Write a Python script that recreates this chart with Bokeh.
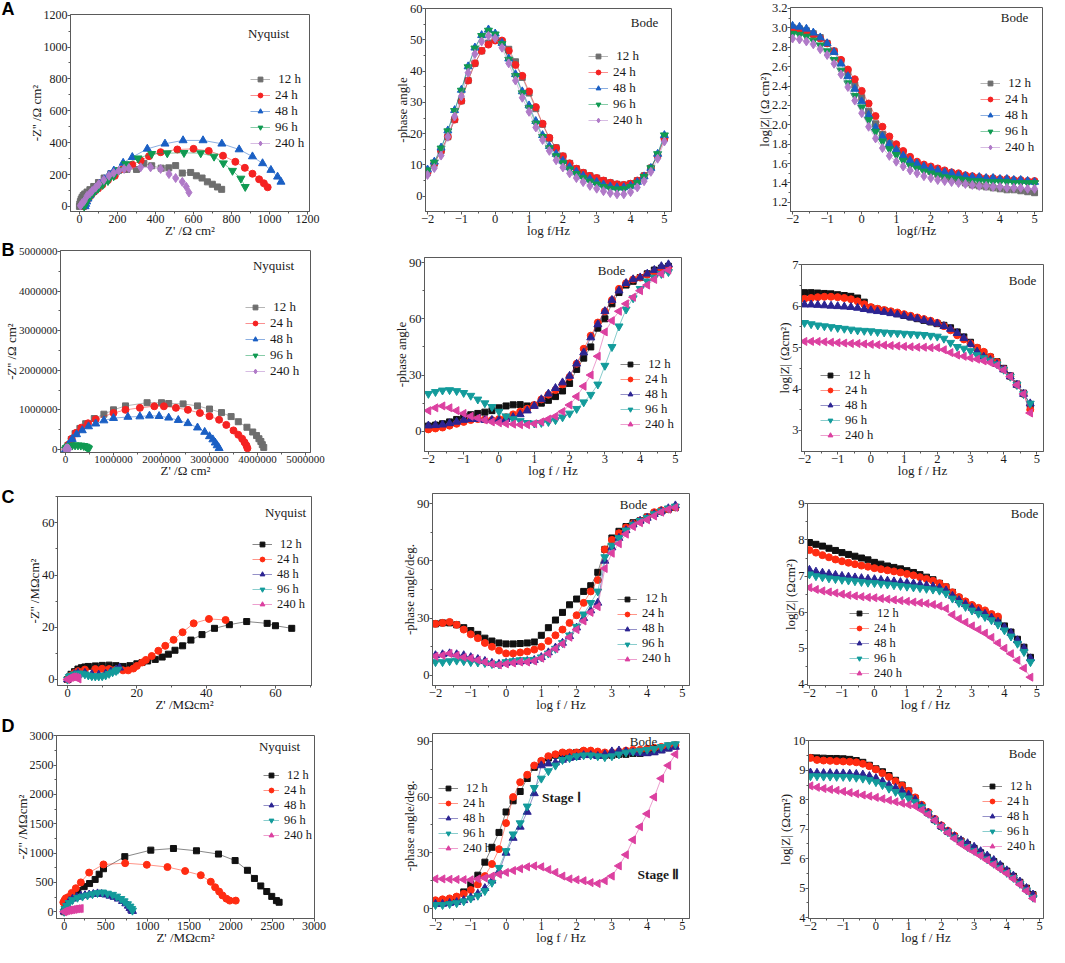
import math
from bokeh.plotting import figure
from bokeh.layouts import column, row
from bokeh.models import Range1d, FixedTicker, Legend, LegendItem, Label, NumeralTickFormatter
from bokeh.embed import file_html
from bokeh.resources import INLINE

HOURS = ["\u00a012 h", "24 h", "48 h", "96 h", "240 h"]

LOGF_A = [-2.0, -1.8, -1.6, -1.4, -1.2, -1.0, -0.8, -0.6, -0.4, -0.2,
          0.0, 0.2, 0.4, 0.6, 0.8, 1.0, 1.2, 1.4, 1.6, 1.8,
          2.0, 2.2, 2.4, 2.6, 2.8, 3.0, 3.2, 3.4, 3.6, 3.8,
          4.0, 4.2, 4.4, 4.6, 4.8, 5.0]
LOGF = [-2.0, -1.8, -1.6, -1.4, -1.2, -1.0, -0.8, -0.6, -0.4, -0.2,
        0.0, 0.2, 0.4, 0.6, 0.8, 1.0, 1.2, 1.4, 1.6, 1.8,
        2.0, 2.2, 2.4, 2.6, 2.8, 3.0, 3.2, 3.4, 3.6, 3.8,
        4.0, 4.2, 4.4, 4.6, 4.8]

# ---------------- Row A : Nyquist (Ohm cm2) ----------------
A_NYQ_12_X = [0, 2, 5, 9, 14, 20, 28, 40, 55, 75, 100, 130, 165, 205, 250, 300, 339, 380, 430, 470, 506, 541, 585, 615, 645, 673, 699, 726, 748]
A_NYQ_12_Y = [0, 15, 30, 45, 57, 68, 78, 90, 105, 125, 150, 178, 205, 225, 232, 232, 270, 255, 240, 242, 256, 209, 213, 192, 178, 154, 139, 122, 107]
A_NYQ_24_X = [25, 28, 33, 40, 50, 62, 78, 98, 120, 150, 186, 230, 278, 322, 366, 427, 515, 600, 680, 755, 820, 870, 910, 945, 970, 990]
A_NYQ_24_Y = [0, 12, 25, 40, 55, 72, 92, 112, 135, 165, 192, 235, 262, 288, 315, 340, 357, 361, 348, 318, 280, 242, 205, 170, 145, 120]
A_NYQ_48_X = [30, 33, 38, 45, 55, 68, 85, 105, 130, 155, 181, 230, 278, 357, 450, 545, 650, 749, 840, 910, 963, 1007, 1042, 1060]
A_NYQ_48_Y = [0, 15, 30, 48, 68, 90, 115, 140, 170, 198, 224, 273, 309, 361, 393, 414, 414, 393, 357, 313, 270, 228, 186, 154]
A_NYQ_96_X = [25, 28, 33, 40, 50, 62, 78, 98, 122, 150, 180, 210, 243, 308, 380, 462, 550, 638, 708, 757, 805, 849, 872]
A_NYQ_96_Y = [0, 12, 25, 40, 55, 72, 92, 112, 135, 160, 190, 228, 266, 302, 330, 334, 336, 334, 313, 271, 224, 175, 123]
A_NYQ_240_X = [5, 14, 25, 40, 55, 67, 85, 102, 128, 155, 180, 207, 235, 260, 322, 374, 427, 471, 506, 541, 562, 576]
A_NYQ_240_Y = [5, 20, 34, 66, 82, 97, 118, 140, 166, 192, 210, 224, 235, 241, 245, 245, 235, 203, 178, 154, 123, 87]

# ---------------- Row A : phase angle ----------------
A_PH_12 = [7.5, 10.5, 14.5, 19, 24.5, 30.5, 37, 42.5, 46.5, 49, 50, 49.5, 47, 43, 38, 33, 28, 23, 18.5, 15.5,
           12.8, 10.5, 8.8, 7.5, 6.5, 5.8, 5.0, 4.3, 3.8, 3.6, 4.0, 5.0, 6.5, 9.0, 13.0, 18.5]
A_PH_24 = [7.5, 10.5, 14.5, 19, 24.5, 30.5, 37, 42.5, 46.5, 48.5, 49.8, 49.8, 46.5, 42, 38.5, 33.5, 28.5, 23.2, 18.7, 15.4,
           12.8, 10.5, 8.8, 7.5, 6.5, 5.8, 5.0, 4.3, 3.8, 3.6, 4.0, 5.0, 6.5, 9.0, 13.0, 18.5]
A_PH_48 = [8.5, 11, 15.5, 21, 27.5, 34, 41.5, 47.5, 51.5, 53.3, 52, 49, 44, 39, 33.5, 29, 24, 19.5, 16, 13.5,
           11.3, 9.3, 7.8, 6.5, 5.5, 4.5, 3.7, 3.1, 2.8, 2.8, 3.3, 4.5, 6.3, 9.0, 13.5, 19.5]
A_PH_96 = [8.3, 10.8, 15.3, 20.8, 27.3, 33.8, 41.3, 47.3, 51.3, 53, 51.8, 48.7, 43.7, 38.5, 33, 28.3, 23.3, 19, 15.4, 12.8,
           10.6, 8.6, 7.1, 5.8, 4.7, 3.8, 3.0, 2.4, 2.2, 2.3, 3.0, 4.3, 6.2, 9.0, 13.5, 19.5]
A_PH_240 = [6.8, 9, 13, 19, 25.5, 32, 39.5, 45.5, 49.5, 51.3, 50.5, 47.5, 42.5, 37, 31.5, 27, 22, 18, 14.5, 11.5,
            9.2, 7.3, 5.8, 4.5, 3.3, 2.4, 1.6, 1.0, 0.6, 0.6, 1.3, 2.8, 4.8, 7.8, 12, 17.5]

# ---------------- Row A : log|Z| ----------------
A_Z_12 = [3.0, 2.99, 2.97, 2.94, 2.9, 2.84, 2.76, 2.66, 2.54, 2.41, 2.28, 2.14, 2.01, 1.9, 1.81, 1.74, 1.67, 1.62, 1.58, 1.55,
          1.52, 1.49, 1.46, 1.44, 1.42, 1.4, 1.38, 1.37, 1.36, 1.35, 1.34, 1.33, 1.33, 1.32, 1.31, 1.3]
A_Z_24 = [2.99, 2.98, 2.96, 2.93, 2.89, 2.84, 2.76, 2.67, 2.57, 2.47, 2.35, 2.22, 2.09, 1.98, 1.88, 1.8, 1.73, 1.67, 1.62, 1.59,
          1.57, 1.55, 1.53, 1.51, 1.5, 1.48, 1.47, 1.46, 1.45, 1.45, 1.44, 1.44, 1.43, 1.43, 1.42, 1.42]
A_Z_48 = [3.02, 3.01, 2.99, 2.95, 2.9, 2.84, 2.75, 2.63, 2.5, 2.37, 2.24, 2.1, 1.97, 1.88, 1.8, 1.74, 1.68, 1.63, 1.6, 1.57,
          1.55, 1.53, 1.51, 1.5, 1.48, 1.47, 1.46, 1.46, 1.45, 1.45, 1.44, 1.44, 1.43, 1.43, 1.42, 1.41]
A_Z_96 = [2.94, 2.93, 2.91, 2.87, 2.82, 2.76, 2.67, 2.56, 2.43, 2.3, 2.18, 2.05, 1.93, 1.83, 1.75, 1.69, 1.63, 1.58, 1.55, 1.52,
          1.5, 1.48, 1.46, 1.45, 1.44, 1.43, 1.42, 1.42, 1.41, 1.41, 1.41, 1.41, 1.4, 1.4, 1.4, 1.4]
A_Z_240 = [2.89, 2.88, 2.86, 2.83, 2.78, 2.72, 2.63, 2.52, 2.39, 2.25, 2.12, 1.98, 1.86, 1.76, 1.68, 1.62, 1.57, 1.53, 1.5, 1.47,
           1.45, 1.43, 1.42, 1.41, 1.4, 1.39, 1.38, 1.37, 1.37, 1.36, 1.36, 1.35, 1.35, 1.35, 1.34, 1.34]

# ---------------- Row B : Nyquist (millions of Ohm cm2) ----------------
B_NYQ_12_X = [0, 0.05, 0.12, 0.2, 0.3, 0.42, 0.6, 0.8, 1.0, 1.25, 1.7, 2.0, 2.15, 2.45, 2.75, 3.0, 3.25, 3.45, 3.6, 3.78, 3.9, 3.98, 4.03, 4.07, 4.1, 4.13]
B_NYQ_12_Y = [0, 0.1, 0.25, 0.4, 0.53, 0.65, 0.78, 0.89, 1.0, 1.1, 1.18, 1.18, 1.16, 1.15, 1.1, 1.02, 0.93, 0.83, 0.7, 0.56, 0.44, 0.35, 0.27, 0.2, 0.12, 0.05]
B_NYQ_24_X = [0, 0.06, 0.13, 0.22, 0.33, 0.47, 0.63, 1.0, 1.25, 1.55, 1.85, 2.05, 2.3, 2.55, 2.8, 3.0, 3.2, 3.35, 3.5, 3.6, 3.68, 3.73, 3.77, 3.79]
B_NYQ_24_Y = [0, 0.12, 0.27, 0.42, 0.55, 0.66, 0.76, 0.92, 1.0, 1.05, 1.09, 1.09, 1.05, 1.0, 0.92, 0.84, 0.75, 0.62, 0.48, 0.37, 0.27, 0.18, 0.1, 0.03]
B_NYQ_48_X = [0, 0.06, 0.14, 0.23, 0.35, 0.48, 0.63, 0.8, 1.0, 1.3, 1.55, 1.75, 1.95, 2.15, 2.35, 2.55, 2.75, 2.9, 3.0, 3.07, 3.12, 3.16, 3.2]
B_NYQ_48_Y = [0, 0.12, 0.26, 0.38, 0.48, 0.58, 0.65, 0.73, 0.79, 0.82, 0.83, 0.85, 0.84, 0.8, 0.74, 0.66, 0.55, 0.44, 0.33, 0.25, 0.17, 0.1, 0.03]
B_NYQ_96_X = [0, 0.02, 0.05, 0.09, 0.14, 0.2, 0.26, 0.32, 0.38, 0.42, 0.45, 0.47, 0.48]
B_NYQ_96_Y = [0, 0.04, 0.07, 0.09, 0.1, 0.105, 0.105, 0.1, 0.09, 0.075, 0.055, 0.035, 0.015]
B_NYQ_240_X = [0, 0.01, 0.02, 0.035, 0.05, 0.06, 0.065]
B_NYQ_240_Y = [0, 0.015, 0.025, 0.03, 0.025, 0.015, 0.005]

B_PH_12 = [2.8, 3.3, 4.0, 5.0, 6.3, 7.8, 8.8, 9.5, 10.2, 11.0, 12.5, 13.5, 14.1, 14.2, 13.5, 13.8, 15.0, 16.5, 18.5, 21.5,
           25.5, 33, 39, 45, 55, 60, 68, 74, 78, 80, 82, 84, 86, 87, 88]
B_PH_24 = [1.0, 1.5, 2.0, 3.0, 4.0, 5.0, 6.0, 6.5, 6.3, 6.0, 6.5, 7.5, 9.0, 10.5, 12.0, 14.0, 17.0, 19.5, 22.0, 25.0,
           29.0, 36, 44, 51, 58, 64, 70, 76, 79, 81, 82, 83.5, 85, 86.5, 87.5]
B_PH_48 = [3.0, 3.2, 3.5, 4.2, 5.0, 6.0, 6.5, 6.5, 6.0, 6.0, 6.0, 6.5, 7.5, 9.0, 11.0, 13.5, 17.0, 20.0, 23.0, 26.0,
           29.5, 36, 42, 50, 57, 64, 70, 75, 79, 81, 82, 84, 86, 88, 89]
B_PH_96 = [20, 21, 21.8, 22, 21.5, 20.5, 19, 17, 15, 13, 10.5, 8, 6.5, 5.5, 4.5, 4.2, 4.5, 5, 6, 7.5,
           9.5, 12, 15.5, 19.5, 25, 35, 45, 56, 65, 71, 76, 80, 82, 84, 85]
B_PH_240 = [11, 12.5, 13.5, 12.5, 11, 9.5, 8, 7, 6, 5, 4.5, 4, 3.8, 3.5, 3.5, 4, 5, 6.5, 8, 10.5,
            14, 18.5, 24, 30, 40, 53, 59, 64, 68, 71.5, 75, 78, 81, 84, 86]

B_Z_12 = [6.33, 6.33, 6.32, 6.31, 6.30, 6.28, 6.26, 6.24, 6.20, 6.10, 5.97, 5.93, 5.90, 5.86, 5.82, 5.78, 5.74, 5.70, 5.66, 5.62,
          5.58, 5.54, 5.48, 5.38, 5.26, 5.13, 4.99, 4.88, 4.77, 4.66, 4.50, 4.32, 4.12, 3.90, 3.62]
B_Z_24 = [6.18, 6.20, 6.22, 6.23, 6.23, 6.22, 6.20, 6.17, 6.12, 6.05, 5.98, 5.94, 5.91, 5.88, 5.85, 5.81, 5.77, 5.73, 5.69, 5.65,
          5.60, 5.52, 5.42, 5.30, 5.20, 5.10, 5.00, 4.90, 4.78, 4.65, 4.48, 4.30, 4.10, 3.88, 3.50]
B_Z_48 = [6.04, 6.04, 6.03, 6.02, 6.01, 6.00, 5.99, 5.98, 5.96, 5.93, 5.90, 5.88, 5.86, 5.83, 5.80, 5.77, 5.73, 5.70, 5.66, 5.62,
          5.58, 5.52, 5.45, 5.35, 5.23, 5.08, 4.90, 4.78, 4.70, 4.60, 4.47, 4.30, 4.10, 3.88, 3.65]
B_Z_96 = [5.60, 5.57, 5.54, 5.52, 5.50, 5.48, 5.46, 5.44, 5.42, 5.41, 5.40, 5.38, 5.37, 5.36, 5.35, 5.34, 5.33, 5.32, 5.31, 5.29,
          5.27, 5.22, 5.12, 5.02, 4.98, 4.92, 4.82, 4.75, 4.69, 4.60, 4.47, 4.30, 4.10, 3.88, 3.65]
B_Z_240 = [5.15, 5.15, 5.15, 5.14, 5.13, 5.12, 5.11, 5.10, 5.10, 5.09, 5.08, 5.07, 5.06, 5.05, 5.04, 5.03, 5.02, 5.01, 5.01, 5.00,
           5.00, 4.95, 4.88, 4.82, 4.79, 4.75, 4.72, 4.68, 4.64, 4.57, 4.46, 4.30, 4.10, 3.88, 3.42]

# ---------------- Row C ----------------
C_NYQ_12_X = [0, 0.5, 1, 2, 3, 4, 5, 6, 8, 10, 12, 14, 16, 18, 20, 21.5, 23.1, 25.3, 27.3, 29.1, 31, 33.2, 35.6, 38.8, 42.4, 46.7, 51.7, 57.6, 60, 64.7]
C_NYQ_12_Y = [0, 1, 2, 3, 4, 4.5, 4.8, 5, 5.2, 5.4, 5.5, 5.3, 5, 5.3, 6, 6.5, 7.1, 7.7, 8.6, 9.7, 11.2, 12.9, 15.1, 17.2, 19.6, 21, 22.2, 21.5, 20.6, 19.6]
C_NYQ_24_X = [0, 1, 2, 3, 5, 8, 10, 12, 14, 16, 17.5, 19, 20, 21.5, 22.6, 24.3, 26.2, 28.2, 30.6, 33.2, 36.4, 40.8, 45.6]
C_NYQ_24_Y = [0, 1.5, 2.5, 3.2, 3.8, 4, 4.1, 4, 3.8, 3.5, 3.5, 4.2, 5.2, 6.5, 7.5, 9, 11, 12.9, 15.2, 18.1, 21.5, 23.2, 22.8]
C_NYQ_48_X = [0, 1, 2, 3, 5, 7, 9, 11, 12.5, 14, 15]
C_NYQ_48_Y = [0, 1, 2, 2.5, 2.5, 2, 1.8, 2.2, 3, 3.8, 4.5]
C_NYQ_96_X = [0, 0.5, 1, 2, 3, 4, 5, 6, 7, 8, 9, 10, 11, 12, 13, 14, 14.5]
C_NYQ_96_Y = [0, 1, 1.5, 2, 2.3, 2.3, 2, 1.6, 1.3, 1.2, 1.2, 1.3, 1.6, 2.2, 2.8, 3.3, 3.8]
C_NYQ_240_X = [0, 0.5, 1, 1.5, 2, 2.5, 3, 3.2]
C_NYQ_240_Y = [0, 0.5, 0.8, 1, 1, 0.8, 0.6, 0.2]

C_PH_12 = [27, 27.5, 27.5, 26.5, 25, 23.5, 21.5, 19.5, 18, 17, 16.5, 16.5, 16.7, 17, 17.5, 21, 25, 29, 33, 37,
           40, 44, 47, 54, 66, 72, 75.5, 78, 80, 81, 83, 85, 86, 87, 88]
C_PH_24 = [27, 27.5, 28, 26.5, 24, 21.5, 19.5, 17, 15, 13, 11.5, 11.5, 12, 12.5, 13.5, 15, 18, 21, 24, 27.5,
           31.5, 38, 44, 50, 66, 71, 74.5, 77.5, 79.5, 81, 83, 85.5, 86.5, 87, 88]
C_PH_48 = [10.5, 11, 11.5, 11, 10.5, 9.5, 8.5, 7.5, 6.5, 6, 6.5, 7, 7.2, 7.5, 8, 9.5, 12, 14.5, 17, 20.5,
           25, 30, 34, 38, 60, 67, 72, 76, 79, 81, 82.5, 84.5, 86, 87.5, 89]
C_PH_96 = [7, 7, 7.5, 7.8, 7.5, 7, 6.8, 6.5, 6, 5.8, 7, 7.5, 8, 8, 8.2, 9.5, 11.5, 14, 17, 21,
           25.5, 32, 38, 44, 62, 68, 72, 76, 79, 81, 82.5, 84.5, 86, 87.5, 88.5]
C_PH_240 = [10, 10.5, 11.5, 10.5, 9.5, 9, 8, 7, 6, 5.5, 6, 6.5, 7, 7, 7.5, 9, 11.5, 14, 16.5, 20,
            24, 28.5, 33, 36, 56, 64, 69, 74, 78, 80, 81.5, 83.5, 85.5, 87, 88]

C_Z_12 = [7.93, 7.88, 7.83, 7.77, 7.71, 7.65, 7.60, 7.55, 7.50, 7.45, 7.38, 7.33, 7.28, 7.24, 7.20, 7.15, 7.10, 7.04, 6.97, 6.90,
          6.80, 6.70, 6.55, 6.40, 6.27, 6.17, 6.08, 6.00, 5.92, 5.80, 5.62, 5.45, 5.25, 5.03, 4.75]
C_Z_24 = [7.72, 7.65, 7.58, 7.52, 7.46, 7.41, 7.37, 7.33, 7.29, 7.26, 7.22, 7.19, 7.16, 7.13, 7.10, 7.06, 7.02, 6.97, 6.92, 6.87,
          6.80, 6.70, 6.55, 6.42, 6.30, 6.20, 6.12, 6.05, 5.95, 5.88]
C_Z_48 = [7.17, 7.12, 7.09, 7.06, 7.03, 7.00, 6.98, 6.96, 6.94, 6.92, 6.91, 6.89, 6.87, 6.85, 6.83, 6.81, 6.79, 6.77, 6.74, 6.71,
          6.67, 6.60, 6.45, 6.33, 6.22, 6.12, 6.03, 5.95, 5.85, 5.73, 5.58, 5.42, 5.22, 5.00, 4.72]
C_Z_96 = [7.05, 7.00, 6.97, 6.94, 6.92, 6.90, 6.88, 6.86, 6.84, 6.82, 6.81, 6.79, 6.77, 6.75, 6.73, 6.71, 6.69, 6.67, 6.65, 6.63,
          6.60, 6.52, 6.38, 6.26, 6.15, 6.05, 5.96, 5.87, 5.78, 5.66, 5.50, 5.33, 5.13, 4.90, 4.62]
C_Z_240 = [6.68, 6.63, 6.59, 6.56, 6.53, 6.50, 6.47, 6.45, 6.43, 6.41, 6.40, 6.38, 6.36, 6.34, 6.32, 6.30, 6.28, 6.26, 6.24, 6.21,
           6.17, 6.10, 5.93, 5.82, 5.72, 5.62, 5.52, 5.42, 5.30, 5.15, 5.00, 4.85, 4.67, 4.45, 4.20]

# ---------------- Row D ----------------
D_NYQ_12_X = [0, 12, 40, 100, 165, 240, 305, 372, 420, 472, 728, 1040, 1312, 1588, 1852, 2052, 2200, 2284, 2360, 2432, 2492, 2548, 2580]
D_NYQ_12_Y = [0, 122, 200, 289, 360, 428, 480, 550, 639, 733, 939, 1050, 1078, 1039, 983, 872, 706, 567, 439, 344, 261, 189, 161]
D_NYQ_24_X = [0, -10, 5, 20, 52, 90, 140, 200, 300, 472, 732, 992, 1240, 1452, 1640, 1760, 1812, 1860, 1900, 1948, 1988, 2060]
D_NYQ_24_Y = [0, 160, 200, 230, 250, 320, 400, 500, 667, 806, 828, 800, 761, 694, 622, 511, 417, 344, 278, 222, 189, 189]
D_NYQ_48_X = [0, 10, 30, 60, 100, 150, 200, 250, 300, 350, 400, 450, 500, 550, 600, 650, 700, 740, 770, 790, 810, 820]
D_NYQ_48_Y = [0, 60, 120, 180, 220, 250, 270, 280, 290, 300, 310, 300, 290, 270, 250, 220, 180, 140, 100, 60, 30, 10]
D_NYQ_96_X = [0, 10, 30, 60, 100, 160, 220, 280, 340, 400, 460, 520, 580, 630, 680, 720, 760, 790, 810, 820]
D_NYQ_96_Y = [0, 50, 100, 150, 200, 240, 260, 280, 300, 320, 330, 310, 290, 260, 220, 180, 130, 90, 50, 20]
D_NYQ_240_X = [0, 20, 40, 60, 80, 100, 120, 140, 160, 180, 200]
D_NYQ_240_Y = [0, 10, 20, 25, 30, 35, 40, 45, 50, 52, 55]

D_PH_12 = [3.5, 3.8, 4.5, 6, 9, 13, 18, 25, 33, 41, 52, 58, 63, 70, 76, 79, 81, 82.5, 83.5, 83.5,
           84, 84.5, 84, 83, 82.5, 82.5, 83, 83, 83.5, 83.5, 84, 84.5, 85.5, 86.5, 87.5]
D_PH_24 = [4.5, 5, 5.5, 6.5, 8, 10, 13, 17.5, 24, 32, 46, 60, 68, 72, 77, 79.5, 82, 83, 84, 84,
           84, 85, 85, 84.5, 84, 84, 84.5, 85, 85.5, 85.5, 86, 86.5, 87, 87.5, 88]
D_PH_48 = [2.5, 2.5, 3, 3.5, 4.5, 6, 8, 11, 15, 20, 30, 38, 44, 52, 62, 77, 78, 78.5, 80, 81,
           81.5, 82.5, 82.5, 82, 83, 84.5, 85, 84.5, 84, 83.5, 83.5, 84, 85, 86, 87]
D_PH_96 = [2, 2, 2.5, 3, 4, 5.5, 7, 9.5, 14, 22, 31, 40, 46, 55, 65, 70, 74, 77, 80, 81,
           82, 82.5, 82.5, 82, 81.5, 82, 83, 84, 84.5, 85, 85.5, 86, 87, 88, 88.5]
D_PH_240 = [16, 16, 15.8, 15.7, 15.6, 15.5, 16, 16.5, 17.5, 18.5, 19.5, 20.5, 21.5, 22.5, 23, 22.5, 21, 19.5, 17.5, 16,
            15.5, 15, 14, 13.5, 15, 17.5, 23, 29, 37, 44, 51, 60, 70, 77, 83]

D_Z_12 = [9.43, 9.42, 9.41, 9.40, 9.40, 9.39, 9.37, 9.33, 9.27, 9.17, 9.05, 8.95, 8.82, 8.66, 8.50, 8.30, 8.05, 7.80, 7.55, 7.32,
          7.10, 6.92, 6.75, 6.60, 6.48, 6.35, 6.20, 6.05, 5.90, 5.75, 5.58, 5.40, 5.20, 5.00, 4.78]
D_Z_24 = [9.42, 9.35, 9.33, 9.32, 9.31, 9.30, 9.29, 9.27, 9.22, 9.14, 9.03, 8.90, 8.77, 8.63, 8.48, 8.30, 8.08, 7.83, 7.58, 7.35,
          7.13, 6.95, 6.78, 6.60, 6.45, 6.30, 6.15, 6.00, 5.85, 5.70, 5.55, 5.37, 5.18, 4.98, 4.76]
D_Z_48 = [8.92, 8.91, 8.90, 8.90, 8.89, 8.89, 8.88, 8.87, 8.85, 8.80, 8.73, 8.62, 8.50, 8.40, 8.30, 8.17, 8.00, 7.78, 7.55, 7.32,
          7.10, 6.92, 6.76, 6.62, 6.52, 6.40, 6.25, 6.10, 5.95, 5.78, 5.60, 5.42, 5.22, 5.00, 4.78]
D_Z_96 = [8.80, 8.80, 8.79, 8.79, 8.78, 8.78, 8.77, 8.75, 8.72, 8.67, 8.60, 8.50, 8.38, 8.27, 8.15, 8.05, 7.92, 7.75, 7.53, 7.30,
          7.08, 6.90, 6.72, 6.55, 6.40, 6.27, 6.13, 5.98, 5.83, 5.68, 5.52, 5.35, 5.15, 4.93, 4.68]
D_Z_240 = [8.47, 8.42, 8.38, 8.35, 8.32, 8.28, 8.24, 8.20, 8.16, 8.12, 8.08, 8.03, 7.98, 7.93, 7.88, 7.83, 7.78, 7.65, 7.50, 7.30,
           7.08, 6.88, 6.68, 6.50, 6.36, 6.23, 6.10, 5.95, 5.80, 5.65, 5.50, 5.32, 5.12, 4.90, 4.65]

# ---------------- styling ----------------
PAL_A = ["#6e6e6e", "#f52222", "#1a5fc4", "#109a52", "#b07ac8"]
PAL_B = ["#111111", "#ff2c12", "#2c2492", "#139b9b", "#dc40a0"]
SERIF = "Liberation Serif"
AX = "#5a5a5a"
TXT = "#1a1a1a"
TAG_PX = 18.0
BOTTOM_EXTRA = 9


def seq(a, b, s):
    out, v = [], a
    while v <= b + 1e-9:
        out.append(round(v, 6))
        v += s
    return out


def panel(cell, frame, xr, yr, xt, yt, xlab, ylab, series, pal, left_tri,
          leg_left, leg_first, leg_font, note, note_xy, tag=None, tag_xy=None,
          tick_px="12.5px", xfmt=None, yfmt=None, glyph_w=20, extra=()):
    cl, ct, cr, cb = cell
    fl, ft, fr, fb = frame
    p = figure(width=cr - cl, height=cb - ct,
               x_range=Range1d(xr[0], xr[1]), y_range=Range1d(yr[0], yr[1]),
               output_backend="svg", toolbar_location=None,
               min_border_left=fl - cl, min_border_right=cr - fr,
               min_border_top=ft - ct, min_border_bottom=max(cb - fb - BOTTOM_EXTRA, 5))
    p.xgrid.visible = False
    p.ygrid.visible = False
    p.outline_line_color = AX
    p.outline_line_width = 1
    p.outline_line_alpha = 1
    p.background_fill_color = "white"
    p.border_fill_color = "white"
    p.xaxis.ticker = FixedTicker(ticks=xt[0], minor_ticks=xt[1])
    p.yaxis.ticker = FixedTicker(ticks=yt[0], minor_ticks=yt[1])
    if xfmt:
        p.xaxis.formatter = NumeralTickFormatter(format=xfmt)
    if yfmt:
        p.yaxis.formatter = NumeralTickFormatter(format=yfmt)
    for ax in (p.xaxis[0], p.yaxis[0]):
        ax.axis_line_color = AX
        ax.major_tick_line_color = AX
        ax.minor_tick_line_color = AX
        ax.major_tick_in = 0
        ax.major_tick_out = 3
        ax.minor_tick_in = 0
        ax.minor_tick_out = 2
        ax.major_label_text_font = SERIF
        ax.major_label_text_font_size = tick_px
        ax.major_label_text_color = TXT
        ax.major_label_standoff = 0
        ax.axis_label_text_font = SERIF
        ax.axis_label_text_font_size = "13px"
        ax.axis_label_text_font_style = "normal"
        ax.axis_label_text_color = TXT
        ax.axis_label_standoff = -3
    p.xaxis.axis_label = xlab
    p.yaxis.axis_label = ylab

    def dp(px, py):
        x = xr[0] + (px - fl) / (fr - fl) * (xr[1] - xr[0])
        y = yr[1] - (py - ft) / (fb - ft) * (yr[1] - yr[0])
        return x, y

    markers = ["square", "circle", "triangle", "inverted_triangle", "triangle" if left_tri else "diamond"]
    sizes = [6, 7, 8, 8, 8 if left_tri else 9]
    items = []
    for i, (xs, ys) in enumerate(series):
        c = pal[i]
        lr = p.line(xs, ys, line_color=c, line_alpha=0.5, line_width=1)
        kw = dict(marker=markers[i], size=sizes[i], fill_color=c, line_color=c)
        if i == 4 and left_tri:
            kw["angle"] = math.pi / 2
        sr = p.scatter(xs, ys, **kw)
        items.append(LegendItem(label=HOURS[i], renderers=[lr, sr]))
    pitch = leg_font * 16.0 / 13.0
    total = 5 * pitch
    top = leg_first - pitch / 2
    leg = Legend(items=items, location=(leg_left - fl, fb - (top + total)),
                 padding=0, margin=0, spacing=0, glyph_height=12, label_height=12,
                 glyph_width=glyph_w, label_standoff=5,
                 label_text_font=SERIF, label_text_font_size="%gpx" % leg_font, label_text_color=TXT,
                 border_line_alpha=0, background_fill_alpha=0)
    p.add_layout(leg)

    nx, ny = dp(*note_xy)
    p.add_layout(Label(x=nx, y=ny, text=note, text_font=SERIF, text_font_size="13px",
                       text_color=TXT, text_align="center", text_baseline="middle"))
    for (txt, ex, ey) in extra:
        sx, sy = dp(ex, ey)
        p.add_layout(Label(x=sx, y=sy, text=txt, text_font=SERIF, text_font_size="13.5px",
                           text_font_style="bold", text_color=TXT,
                           text_align="center", text_baseline="middle"))
    if tag:
        # panel letter as a left-aligned title that sits in the top border
        tx, base = tag_xy
        h = TAG_PX * 1.117
        sy = base + TAG_PX * 0.212
        s = 2.0 * (ft - sy)
        s = max(min(s, (ft - ct) - 2 - h), -(2 + h) + 1)
        p.title.text = tag
        p.title.align = "left"
        p.title.vertical_align = "bottom"
        p.title.offset = tx - fl
        p.title.standoff = s
        p.title.text_font = "Liberation Sans"
        p.title.text_font_size = "%gpx" % TAG_PX
        p.title.text_font_style = "bold"
        p.title.text_color = "#000000"
    return p


BODE_X = (seq(-2, 5, 1), seq(-1.5, 4.5, 1))

# Row A
pA1 = panel((8, 8, 355, 248), (78, 22, 317, 217), (-47, 1210), (-32, 1204),
            (seq(0, 1200, 200), seq(100, 1100, 200)), (seq(0, 1200, 200), seq(100, 1100, 200)),
            "Z' /\u03a9 cm\u00b2", "-Z'' /\u03a9 cm\u00b2",
            [(A_NYQ_12_X, A_NYQ_12_Y), (A_NYQ_24_X, A_NYQ_24_Y), (A_NYQ_48_X, A_NYQ_48_Y),
             (A_NYQ_96_X, A_NYQ_96_Y), (A_NYQ_240_X, A_NYQ_240_Y)],
            PAL_A, False, 258, 85, 13, "Nyquist", (276, 41), "A", (9, 22), tick_px="12px")
pA2 = panel((355, 8, 710, 248), (433, 16, 679, 214), (-2.06, 5.21), (-4.9, 60.05),
            BODE_X, (seq(0, 60, 10), seq(5, 55, 10)),
            "log f/Hz", "-phase angle",
            [(LOGF_A, A_PH_12), (LOGF_A, A_PH_24), (LOGF_A, A_PH_48), (LOGF_A, A_PH_96), (LOGF_A, A_PH_240)],
            PAL_A, False, 596, 59, 13, "Bode", (652, 30))
pA3 = panel((710, 8, 1057, 248), (798, 15, 1050, 213), (-2.06, 5.23), (1.106, 3.21),
            BODE_X, (seq(1.2, 3.2, 0.2), seq(1.3, 3.1, 0.2)),
            "logf/Hz", "log|Z| (\u03a9 cm\u00b2)",
            [(LOGF_A, A_Z_12), (LOGF_A, A_Z_24), (LOGF_A, A_Z_48), (LOGF_A, A_Z_96), (LOGF_A, A_Z_240)],
            PAL_A, False, 988, 85, 13, "Bode", (1022, 25), yfmt="0.0")

# Row B
M = 1e6
pB1 = panel((8, 248, 355, 488), (68, 258, 318, 454), (-0.104 * M, 5.104 * M), (-0.078 * M, 5.026 * M),
            (seq(0, 5 * M, M), seq(0.5 * M, 4.5 * M, M)), (seq(0, 5 * M, M), seq(0.5 * M, 4.5 * M, M)),
            "Z' /\u03a9 cm\u00b2", "-Z'' /\u03a9 cm\u00b2",
            [([v * M for v in B_NYQ_12_X], [v * M for v in B_NYQ_12_Y]),
             ([v * M for v in B_NYQ_24_X], [v * M for v in B_NYQ_24_Y]),
             ([v * M for v in B_NYQ_48_X], [v * M for v in B_NYQ_48_Y]),
             ([v * M for v in B_NYQ_96_X], [v * M for v in B_NYQ_96_Y]),
             ([v * M for v in B_NYQ_240_X], [v * M for v in B_NYQ_240_Y])],
            PAL_A, False, 253, 309, 13, "Nyquist", (281, 273), "B", (9, 263.5),
            tick_px="11px", xfmt="0", yfmt="0")
pB2 = panel((355, 248, 710, 488), (432, 265, 689, 457), (-2.11, 5.17), (-10.8, 92.7),
            BODE_X, (seq(0, 90, 30), seq(15, 75, 30)),
            "log f / Hz", "-phase angle",
            [(LOGF, B_PH_12), (LOGF, B_PH_24), (LOGF, B_PH_48), (LOGF, B_PH_96), (LOGF, B_PH_240)],
            PAL_B, True, 628, 367, 12.8, "Bode", (619, 278))
pB3 = panel((710, 248, 1057, 488), (809, 272, 1051, 458), (-2.09, 5.2), (2.49, 7.01),
            BODE_X, (seq(3, 7, 1), seq(3.5, 6.5, 1)),
            "log f / Hz", "log|Z| (\u03a9cm\u00b2)",
            [(LOGF, B_Z_12), (LOGF, B_Z_24), (LOGF, B_Z_48), (LOGF, B_Z_96), (LOGF, B_Z_240)],
            PAL_B, True, 828, 380, 12.6, "Bode", (1030, 288))

# Row C
pC1 = panel((8, 488, 355, 722), (65, 504, 319, 691), (-2.9, 70.4), (-2.3, 70.1),
            (seq(0, 60, 20), seq(10, 70, 20)), (seq(0, 60, 20), seq(10, 70, 20)),
            "Z' /M\u03a9cm\u00b2", "-Z'' /M\u03a9cm\u00b2",
            [(C_NYQ_12_X, C_NYQ_12_Y), (C_NYQ_24_X, C_NYQ_24_Y), (C_NYQ_48_X, C_NYQ_48_Y),
             (C_NYQ_96_X, C_NYQ_96_Y), (C_NYQ_240_X, C_NYQ_240_Y)],
            PAL_B, True, 260, 549, 12.4, "Nyquist", (293, 520), "C", (9, 514))
pC2 = panel((355, 488, 710, 722), (440, 501, 697, 690), (-2.085, 5.2), (-5.3, 95.3),
            BODE_X, (seq(0, 90, 30), seq(15, 75, 30)),
            "log f / Hz", "-phase angle/deg.",
            [(LOGF, C_PH_12), (LOGF, C_PH_24), (LOGF, C_PH_48), (LOGF, C_PH_96), (LOGF, C_PH_240)],
            PAL_B, True, 625, 601, 12.7, "Bode", (641, 512))
pC3 = panel((710, 488, 1057, 722), (815, 511, 1051, 692), (-2.06, 5.2), (3.97, 9.01),
            BODE_X, (seq(4, 9, 1), seq(4.5, 8.5, 1)),
            "log f / Hz", "log|Z| (\u03a9cm\u00b2)",
            [(LOGF, C_Z_12), (LOGF[:len(C_Z_24)], C_Z_24), (LOGF, C_Z_48), (LOGF, C_Z_96), (LOGF, C_Z_240)],
            PAL_B, True, 857, 619, 12.4, "Bode", (1032, 521))

# Row D
pD1 = panel((8, 722, 355, 955), (64, 743, 322, 927), (-92, 3005), (-116, 3005),
            (seq(0, 3000, 500), seq(250, 2750, 500)), (seq(0, 3000, 500), seq(250, 2750, 500)),
            "Z' /M\u03a9cm\u00b2", "-Z'' /M\u03a9cm\u00b2",
            [(D_NYQ_12_X, D_NYQ_12_Y), (D_NYQ_24_X, D_NYQ_24_Y), (D_NYQ_48_X, D_NYQ_48_Y),
             (D_NYQ_96_X, D_NYQ_96_Y), (D_NYQ_240_X, D_NYQ_240_Y)],
            PAL_B, True, 271, 783, 12.4, "Nyquist", (287, 754), "D", (9, 739), tick_px="12px", glyph_w=16)
pD2 = panel((355, 722, 710, 955), (440, 741, 697, 927), (-2.085, 5.2), (-5.3, 94.2),
            BODE_X, (seq(0, 90, 30), seq(15, 75, 30)),
            "log f / Hz", "-phase angle/deg.",
            [(LOGF, D_PH_12), (LOGF, D_PH_24), (LOGF, D_PH_48), (LOGF, D_PH_96), (LOGF, D_PH_240)],
            PAL_B, True, 446, 796, 12.4, "Bode", (651, 749),
            extra=(("Stage \u2160", 569, 805), ("Stage \u2161", 666, 883)))
pD3 = panel((710, 722, 1057, 955), (816, 748, 1051, 927), (-2.06, 5.12), (3.97, 10.01),
            BODE_X, (seq(4, 10, 1), seq(4.5, 9.5, 1)),
            "log f / Hz", "log|Z| (\u03a9cm\u00b2)",
            [(LOGF, D_Z_12), (LOGF, D_Z_24), (LOGF, D_Z_48), (LOGF, D_Z_96), (LOGF, D_Z_240)],
            PAL_B, True, 990, 794, 12.4, "Bode", (1030, 761))


def cellbox(p):
    return column(p)


layout = column(
    row(cellbox(pA1), cellbox(pA2), cellbox(pA3)),
    row(cellbox(pB1), cellbox(pB2), cellbox(pB3)),
    row(cellbox(pC1), cellbox(pC2), cellbox(pC3)),
    row(cellbox(pD1), cellbox(pD2), cellbox(pD3)),
)
open("out.html", "w").write(file_html(layout, INLINE))
